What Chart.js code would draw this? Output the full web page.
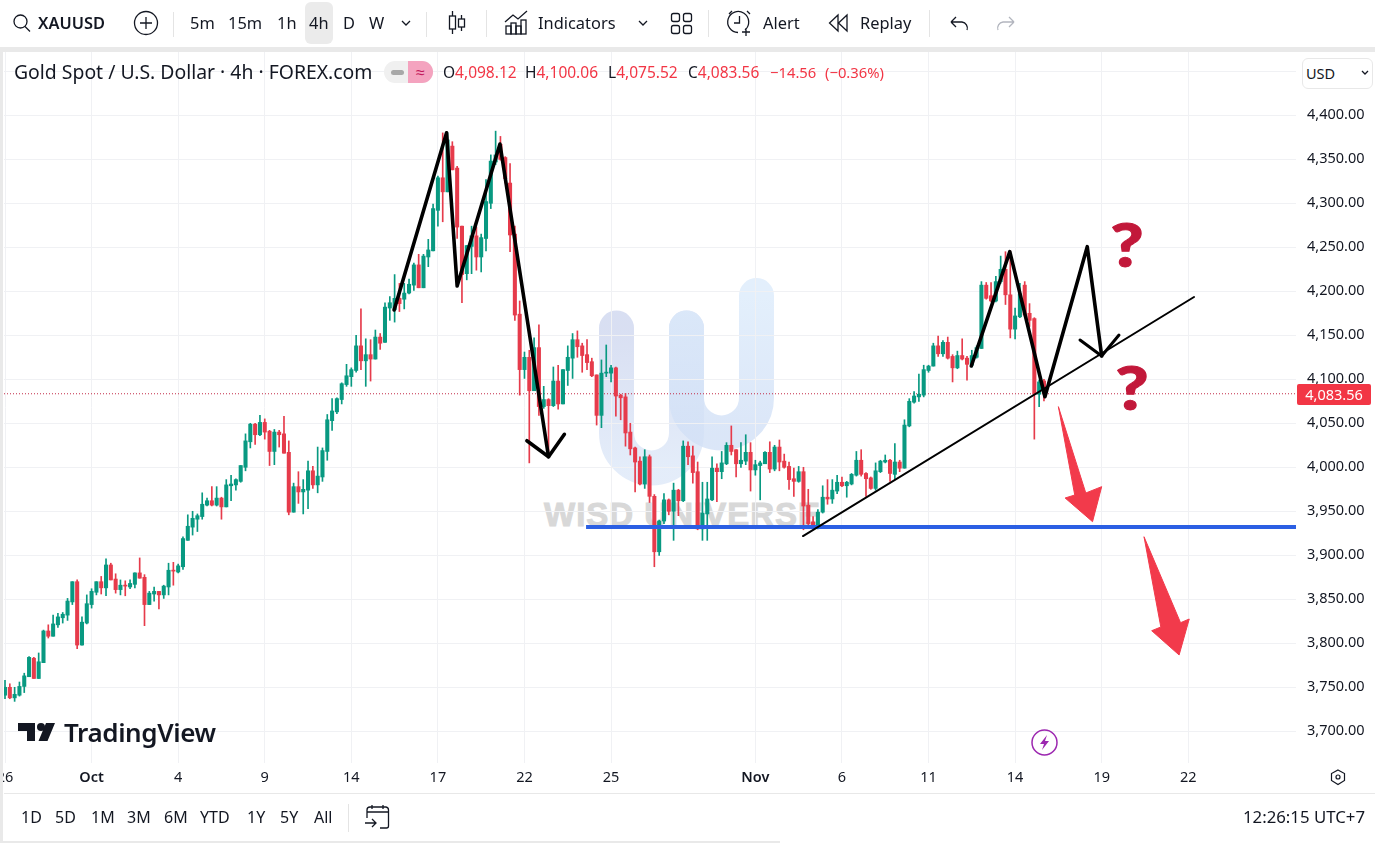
<!DOCTYPE html>
<html>
<head>
<meta charset="utf-8">
<title>XAUUSD</title>
<script src="https://cdn.jsdelivr.net/npm/chart.js@4"></script>
<style>
  html, body { margin: 0; padding: 0; background: #fff; }
  body { width: 1375px; height: 843px; position: relative; overflow: hidden; font-family: "Noto Sans", sans-serif; color: #131722; }
  .t { position: absolute; white-space: nowrap; line-height: 20px; }
  .tb { font-size: 16.4px; top: 13px; }
  .rng { font-size: 16px; top: 807px; }
  .ohlc { font-size: 15.5px; top: 62px; color: #f23645; }
  .ohlc b { font-weight: 400; color: #131722; }
  .sep { position: absolute; width: 1px; background: #e4e4e4; }
  .qm { font: 900 60px/68px Lato; color: #c2183a; transform: scaleX(1.2); -webkit-text-stroke: 1px #c2183a; }
  svg { position: absolute; overflow: visible; }
  #chartBox { position: absolute; left: 0; top: 0; width: 1375px; height: 843px; }
</style>
</head>
<body>

<!-- watermark sits under the canvas -->
<svg style="left:0;top:0" width="1375" height="843" fill="none">
  <defs>
    <linearGradient id="wa" x1="0" y1="0" x2="0" y2="1"><stop offset="0" stop-color="#cfd7ef"/><stop offset="1" stop-color="#dde8f8"/></linearGradient>
    <linearGradient id="wb" x1="0" y1="0" x2="0" y2="1"><stop offset="0" stop-color="#dcebfb"/><stop offset="1" stop-color="#d2e0f6"/></linearGradient>
  </defs>
  <path d="M616.5 328 V433 A35 35 0 0 0 686.5 433 V328" stroke="url(#wa)" stroke-width="35" stroke-linecap="round" opacity=".8"/>
  <path d="M686.5 328 V398 A35 35 0 0 0 756.5 398 V295.5" stroke="url(#wb)" stroke-width="35" stroke-linecap="round" opacity=".8"/>
</svg>
<div class="t" style="left:544px;top:497px;font:bold 33px/36px 'Liberation Sans';color:#d8d8d8;letter-spacing:1px;-webkit-text-stroke:1px #d8d8d8">WISD UNIVERSE</div>

<div id="chartBox"><canvas id="myChart" width="1375" height="843"></canvas></div>

<!-- frame -->
<div style="position:absolute;left:0;top:47px;width:1375px;height:5px;background:#e9e9e9"></div>
<div style="position:absolute;left:0;top:47px;width:3px;height:796px;background:#e9e9e9"></div>
<div style="position:absolute;left:0;top:841px;width:780px;height:2px;background:#e9e9e9"></div>
<div style="position:absolute;left:4px;top:793px;width:1371px;height:1px;background:#e8e8e8"></div>

<!-- top toolbar -->
<svg style="left:0;top:0" width="1040" height="46" fill="none" stroke="#131722" stroke-width="1.3">
  <circle cx="20.5" cy="21.5" r="6.5"/><path d="M25 26.5 L30 31.5"/>
  <circle cx="146" cy="23" r="11.5"/><path d="M146 17 V29 M140 23 H152"/>
  <path d="M402 21 L406 25 L410 21"/>
  <path d="M452.5 11 V34 M461.5 15 V31"/><rect x="449.5" y="16" width="6" height="13" fill="#fff"/><rect x="458.5" y="19" width="6" height="8" fill="#fff"/>
  <path d="M505 22 L513 15 L518 19 L527 11"/><rect x="506" y="26" width="5" height="8"/><rect x="511" y="23" width="5" height="11"/><rect x="516" y="26" width="5" height="8"/><rect x="521" y="20" width="5" height="14"/>
  <path d="M639 21 L643 25 L647 21"/>
  <rect x="671.5" y="13.5" width="8" height="8" rx="2"/><rect x="683.5" y="13.5" width="8" height="8" rx="2"/><rect x="671.5" y="25.5" width="8" height="8" rx="2"/><rect x="683.5" y="25.5" width="8" height="8" rx="2"/>
  <path d="M745 30 A10.5 10.5 0 1 0 738 32.5 M739.5 16 V23 H734 M729 14 L732 11 M750 14 L747 11 M746 28 V36 M742 32 H750"/>
  <path d="M838 15 L829.5 23 L838 31 Z M847 15 L838.5 23 L847 31 Z"/>
  <path d="M951 22 H962 A6 6 0 0 1 967 30 M951 22 L956 17 M951 22 L956 27"/>
  <path d="M1014 22 H1003 A6 6 0 0 0 998 30 M1014 22 L1009 17 M1014 22 L1009 27" stroke="#b2b5be"/>
</svg>
<div class="sep" style="left:173px;top:12px;height:25px"></div>
<div class="sep" style="left:426px;top:12px;height:25px"></div>
<div class="sep" style="left:486px;top:10px;height:27px"></div>
<div class="sep" style="left:708px;top:10px;height:27px"></div>
<div class="sep" style="left:929px;top:10px;height:27px"></div>
<div style="position:absolute;left:305px;top:2px;width:28px;height:42px;background:#ebebeb;border-radius:6px"></div>
<div class="t tb" style="left:38px;font-weight:600;">XAUUSD</div>
<div class="t tb" style="left:190px">5m</div>
<div class="t tb" style="left:228px">15m</div>
<div class="t tb" style="left:277px">1h</div>
<div class="t tb" style="left:309px">4h</div>
<div class="t tb" style="left:343px">D</div>
<div class="t tb" style="left:369px">W</div>
<div class="t tb" style="left:538px">Indicators</div>
<div class="t tb" style="left:763px">Alert</div>
<div class="t tb" style="left:860px">Replay</div>

<!-- legend row -->
<div class="t" style="left:14px;top:62px;font-size:19.4px;">Gold Spot / U.S. Dollar · 4h · FOREX.com</div>
<div style="position:absolute;left:384px;top:61px;width:49px;height:22px;border-radius:11px;background:#f0f0f0;overflow:hidden">
  <div style="position:absolute;left:7px;top:9px;width:13px;height:5px;border-radius:3px;background:#a8a8a8"></div>
  <div style="position:absolute;left:24px;top:0;width:25px;height:22px;background:#f4a3bf;color:#c2185b;font-size:16px;line-height:22px;text-align:center">≈</div>
</div>
<div class="t ohlc" style="left:443px"><b>O</b>4,098.12</div>
<div class="t ohlc" style="left:525px"><b>H</b>4,100.06</div>
<div class="t ohlc" style="left:608px"><b>L</b>4,075.52</div>
<div class="t ohlc" style="left:688px"><b>C</b>4,083.56</div>
<div class="t ohlc" style="left:770px;font-size:14.8px">−14.56</div>
<div class="t ohlc" style="left:825px;font-size:14.8px">(−0.36%)</div>

<div style="position:absolute;left:1302px;top:58px;width:69px;height:29px;border:1px solid #e8e8e8;border-radius:6px;background:#fff"></div>
<div class="t" style="left:1306px;top:63px;font-size:14.5px;">USD</div>
<svg style="left:0;top:0" width="1375" height="100" fill="none" stroke="#131722" stroke-width="1.3"><path d="M1362 71 L1365 74 L1368 71"/></svg>

<!-- last price tag -->
<div id="lastTag" style="position:absolute;left:1297px;top:384px;width:74px;height:21px;background:#f23645;border-radius:2px;color:#fff;font-size:14.5px;line-height:21px;text-align:center">4,083.56</div>

<!-- sketched question marks -->
<div class="t qm" style="left:1113px;top:210px">?</div>
<div class="t qm" style="left:1118px;top:353px">?</div>

<!-- TradingView mark -->
<svg style="left:0;top:0" width="60" height="760" fill="#131722"><path d="M18 723 H35 V741 H27 V731 H18 Z M55 723 L47.5 741 H38.5 L46 723 Z"/><circle cx="41" cy="727" r="4"/></svg>
<div class="t" style="left:64px;top:716px;font:600 26px/32px 'Noto Sans';letter-spacing:-.4px">TradingView</div>

<!-- lightning badge -->
<svg style="left:0;top:0" width="1375" height="800" fill="none">
  <circle cx="1044.5" cy="742.5" r="12.5" stroke="#9c27b0" stroke-width="1.5"/>
  <path d="M1047 735 L1040 744 H1044 L1042 750 L1049 741 H1045 Z" fill="#9c27b0"/>
  <path d="M1338 770 L1344.5 773.5 V780.5 L1338 784.5 L1331.5 780.5 V773.5 Z" stroke="#131722" stroke-width="1.2"/><circle cx="1338" cy="777" r="2" stroke="#131722" stroke-width="1.2"/>
</svg>

<!-- bottom bar -->
<div class="t rng" style="left:21px">1D</div>
<div class="t rng" style="left:55px">5D</div>
<div class="t rng" style="left:91px">1M</div>
<div class="t rng" style="left:127px">3M</div>
<div class="t rng" style="left:164px">6M</div>
<div class="t rng" style="left:200px">YTD</div>
<div class="t rng" style="left:247px">1Y</div>
<div class="t rng" style="left:280px">5Y</div>
<div class="t rng" style="left:314px">All</div>
<div class="sep" style="left:348px;top:804px;height:28px"></div>
<svg style="left:0;top:0" width="400" height="843" fill="none" stroke="#131722" stroke-width="1.3">
  <path d="M367 818 V810 A3 3 0 0 1 370 807 H386 A3 3 0 0 1 388.5 810 V826 A2 2 0 0 1 386.5 828 H380 M367 812 H388 M372 805 V809 M383 805 V809 M365 823 H376 M372 819 L376 823 L372 827"/>
</svg>
<div class="t" style="right:10px;top:807px;font-size:16.8px;">12:26:15 UTC+7</div>

<script>
// candles, one per 4h
const opens = [
  3741,3750,3738,3741,3751,3762,3783,3760,3778,3814,
  3808,3821,3829,3832,3847,3870,3798,3823,3844,3858,
  3870,3863,3889,3873,3861,3866,3864,3867,3880,3875,
  3844,3856,3859,3855,3864,3883,3881,3887,3917,3932,
  3941,3944,3957,3962,3957,3965,3955,3979,3980,3984,
  4000,4029,4049,4037,4051,4041,4018,4040,4038,4017,
  3949,3978,3972,3974,3996,3980,3989,4018,4053,4063,
  4077,4094,4103,4110,4138,4121,4128,4123,4148,4142,
  4181,4179,4192,4191,4198,4207,4230,4204,4239,4246,
  4292,4329,4313,4365,4340,4274,4220,4251,4263,4239,
  4260,4300,4347,4367,4352,4323,4265,4174,4111,4125,
  4087,4136,4069,4077,4070,4098,4072,4110,4124,4145,
  4138,4128,4120,4105,4059,4107,4107,4113,4082,4080,
  4040,4022,4007,3981,4012,3967,3904,3939,3963,3950,
  3974,3962,4024,4013,3995,3930,3947,3963,3999,3995,
  4004,4025,4020,4004,4007,4017,3997,4002,4004,4017,
  3998,4023,4007,4001,3987,3984,3995,3957,3938,3932,
  3949,3966,3964,3973,3983,3979,3981,3991,4008,3993,
  3988,3976,3995,4006,4008,3992,4006,3999,4047,4074,
  4080,4082,4110,4115,4138,4129,4142,4126,4113,4127,
  4124,4116,4125,4135,4207,4195,4189,4211,4225,4196,
  4157,4171,4207,4175,4169,4083,4098.12
];
const closes = [
  3750,3738,3742,3751,3763,3784,3760,3779,3814,3808,
  3822,3830,3833,3848,3870,3798,3824,3845,3859,3870,
  3863,3889,3872,3861,3866,3865,3868,3880,3874,3844,
  3857,3859,3855,3865,3883,3882,3888,3919,3933,3942,
  3945,3958,3962,3957,3965,3955,3980,3981,3986,4002,
  4030,4049,4037,4051,4040,4018,4040,4037,4016,3949,
  3978,3972,3975,3996,3980,3990,4019,4054,4064,4078,
  4095,4104,4111,4138,4121,4128,4123,4148,4141,4182,
  4187,4192,4186,4198,4208,4230,4204,4240,4247,4294,
  4329,4313,4372,4338,4273,4219,4252,4263,4239,4261,
  4302,4348,4355,4350,4328,4264,4173,4111,4125,4087,
  4136,4069,4077,4070,4098,4072,4111,4125,4145,4137,
  4127,4119,4104,4059,4107,4108,4113,4081,4079,4039,
  4021,4006,3981,4012,3967,3904,3939,3963,3950,3974,
  3962,4024,4012,3994,3930,3948,3964,3999,3995,4005,
  4025,4018,4004,4008,4017,3997,4003,4005,4017,3998,
  4023,4006,4000,3986,3984,3995,3956,3936,3931,3949,
  3966,3964,3974,3983,3979,3983,3992,4008,3992,3987,
  3976,3996,4007,4008,3993,4006,3999,4048,4075,4081,
  4083,4111,4115,4138,4129,4142,4124,4113,4127,4123,
  4117,4127,4136,4207,4192,4189,4211,4225,4196,4157,
  4172,4197,4173,4167,4083,4097,4083.56
];
const highs = [
  3758,3754,3750,3756,3766,3785,3784,3789,3815,3821,
  3832,3834,3835,3851,3870,3872,3830,3855,3862,3870,
  3876,3896,3891,3879,3872,3871,3872,3880,3897,3878,
  3859,3864,3859,3866,3891,3892,3890,3921,3946,3950,
  3947,3971,3965,3978,3978,3966,3986,3991,3987,4002,
  4038,4050,4050,4059,4055,4042,4043,4042,4058,4030,
  3982,3995,3986,4007,4001,4023,4022,4060,4078,4079,
  4096,4117,4113,4150,4180,4146,4145,4156,4152,4187,
  4194,4219,4209,4209,4214,4232,4242,4242,4259,4299,
  4331,4380,4380,4370,4342,4274,4252,4274,4273,4265,
  4327,4355,4382,4376,4353,4345,4274,4189,4131,4133,
  4147,4162,4092,4078,4114,4116,4111,4138,4152,4155,
  4141,4145,4124,4105,4122,4139,4116,4114,4083,4084,
  4050,4023,4012,4020,4014,3969,3940,3970,3964,3982,
  3975,4030,4029,4024,4006,3983,3983,4012,4004,4018,
  4028,4047,4020,4028,4037,4028,4008,4007,4018,4029,
  4025,4031,4015,4006,3999,4001,4000,3975,3944,3952,
  3979,3986,3986,3991,3989,3984,3993,4018,4020,3994,
  3989,4005,4008,4014,4009,4027,4008,4054,4078,4086,
  4106,4116,4116,4141,4149,4144,4148,4128,4132,4146,
  4126,4133,4138,4211,4210,4210,4217,4240,4245,4246,
  4181,4209,4211,4186,4170,4099,4100.06
];
const lows = [
  3737,3737,3734,3740,3744,3762,3760,3760,3778,3806,
  3808,3818,3823,3826,3844,3794,3798,3822,3840,3855,
  3856,3854,3872,3857,3855,3854,3862,3863,3874,3820,
  3844,3848,3839,3851,3855,3866,3880,3884,3917,3923,
  3927,3941,3956,3956,3956,3941,3955,3962,3974,3983,
  3996,4022,4026,4036,4032,4002,4003,4023,4016,3946,
  3949,3959,3947,3953,3976,3971,3984,4008,4042,4061,
  4072,4092,4092,4108,4111,4092,4098,4123,4134,4142,
  4167,4165,4177,4180,4197,4201,4204,4204,4228,4246,
  4274,4279,4313,4338,4260,4187,4213,4220,4224,4222,
  4246,4294,4344,4349,4323,4245,4167,4082,4101,4005,
  4087,4059,4067,4014,4069,4066,4072,4093,4101,4125,
  4108,4111,4103,4048,4045,4103,4097,4058,4054,4024,
  4014,3972,3980,3976,3960,3887,3900,3936,3946,3917,
  3945,3961,4003,3982,3929,3917,3917,3962,3961,3987,
  4003,4014,3989,4000,4003,3973,3991,3963,4004,3994,
  3996,3996,3999,3975,3967,3983,3929,3932,3930,3930,
  3948,3958,3959,3970,3978,3966,3980,3990,3990,3967,
  3975,3974,3994,4005,3984,3986,3995,3999,4046,4073,
  4075,4080,4108,4115,4126,4126,4123,4097,4112,4122,
  4099,4114,4124,4135,4191,4188,4188,4209,4185,4147,
  4146,4170,4171,4160,4032,4069,4075.52
];

// axes
const priceTicks = [3700,3750,3800,3850,3900,3950,4000,4050,4100,4150,4200,4250,4300,4350,4400,4450];
const dateTicks = [0,18,36,54,72,90,108,126,156,174,192,210,228,246];
const dateLabels = ["26","Oct","4","9","14","17","22","25","Nov","6","11","14","19","22"];
const lastPrice = 4083.56;

// hand drawn marks, bar index and price
const zigLeftX = [80.9,91.8,94.0,102.9,113.0];
const zigLeftY = [4178.8,4380.2,4206,4367.4,4012];
const headLeftX = [108.5,113.0,116.3];
const headLeftY = [4030.2,4012,4037.5];
const zigRightX = [200.9,208.9,216.2,225.0,228.0];
const zigRightY = [4115.1,4245,4080.2,4250.7,4126.5];
const headRightX = [223.5,228.0,231.6];
const headRightY = [4144.7,4126.5,4150.3];
const trendX = [165.9,247.2];
const trendY = [3921.9,4193.5];
const supportX = [120.8,268.4];
const supportY = [3932.2,3932.2];
const arrowOneX = [219,222.4,220.4,226.1,228,224.7,219];
const arrowOneY = [4068.9,3968.5,3965.1,3938.2,3978,3970.8,4068.9];
const arrowTwoX = [236.8,240.3,238.4,244.1,246.2,244.4,236.8];
const arrowTwoY = [3921.1,3818.5,3814.3,3786.7,3827.6,3823.4,3921.1];

const green = '#089981';
const red = '#e63b4b';
const gridColor = '#f0f1f4';
const xMin = -0.21;
const xMax = 268.4;

function points(xs, ys) {
  return xs.map((x, i) => ({ x: x, y: ys[i] }));
}

function sketch(xs, ys, width, order) {
  return {
    type: 'line',
    data: points(xs, ys),
    borderColor: '#000',
    borderWidth: width,
    borderCapStyle: 'round',
    borderJoinStyle: 'round',
    pointRadius: 0,
    tension: 0,
    order: order
  };
}

function redArrow(xs, ys) {
  return {
    type: 'line',
    data: points(xs, ys),
    borderColor: '#f23a4b',
    borderWidth: 1,
    backgroundColor: '#f23a4b',
    fill: 'shape',
    pointRadius: 0,
    tension: 0,
    order: 1
  };
}

const barColors = opens.map((o, i) => closes[i] >= o ? green : red);

const config = {
  type: 'bar',
  data: {
    datasets: [
      sketch(zigLeftX, zigLeftY, 3.6, 1),
      sketch(headLeftX, headLeftY, 3.6, 1),
      sketch(zigRightX, zigRightY, 3.6, 1),
      sketch(headRightX, headRightY, 3, 1),
      sketch(trendX, trendY, 2, 1),
      {
        type: 'line',
        data: points(supportX, supportY),
        borderColor: '#2b5fe3',
        borderWidth: 4,
        pointRadius: 0,
        order: 2
      },
      redArrow(arrowOneX, arrowOneY),
      redArrow(arrowTwoX, arrowTwoY),
      {
        type: 'bar',
        data: opens.map((o, i) => ({ x: i, y: [o, closes[i]] })),
        backgroundColor: barColors,
        barThickness: 3.4,
        minBarLength: 1,
        grouped: false,
        order: 3
      },
      {
        type: 'bar',
        data: opens.map((o, i) => ({ x: i, y: [lows[i], highs[i]] })),
        backgroundColor: barColors,
        barThickness: 1,
        grouped: false,
        order: 4
      },
      {
        type: 'line',
        data: points([xMin, xMax], [lastPrice, lastPrice]),
        borderColor: '#c22d48',
        borderWidth: 1,
        borderDash: [1, 2],
        pointRadius: 0,
        order: 5
      }
    ]
  },
  options: {
    responsive: false,
    animation: false,
    events: [],
    layout: {
      autoPadding: false,
      padding: { left: 4, top: 52, right: 0, bottom: 0 }
    },
    plugins: {
      legend: { display: false },
      tooltip: { enabled: false }
    },
    scales: {
      x: {
        type: 'linear',
        offset: false,
        min: xMin,
        max: xMax,
        afterBuildTicks: (axis) => { axis.ticks = dateTicks.map(v => ({ value: v })); },
        afterFit: (axis) => {
          axis.height = 80;
          // first label hangs off the left edge on purpose
          axis.paddingLeft = 0;
          axis.paddingRight = 0;
        },
        border: { display: false },
        // bar charts shift grid lines half a step by default
        grid: { color: gridColor, drawTicks: false, offset: false },
        ticks: {
          autoSkip: false,
          maxRotation: 0,
          padding: 6,
          color: '#131722',
          font: (ctx) => ({
            family: 'Noto Sans',
            size: 14.5,
            weight: ctx.tick && isNaN(ctx.tick.label) ? '600' : '400'
          }),
          callback: (v) => dateLabels[dateTicks.indexOf(v)]
        }
      },
      y: {
        position: 'right',
        min: 3663.97,
        max: 4471.93,
        afterBuildTicks: (axis) => { axis.ticks = priceTicks.map(v => ({ value: v })); },
        afterFit: (axis) => {
          axis.width = 79;
          axis.paddingTop = 0;
          axis.paddingBottom = 0;
        },
        border: { display: false },
        grid: { color: gridColor, drawTicks: false },
        ticks: {
          padding: 11,
          color: '#131722',
          font: { family: 'Noto Sans', size: 14.5 },
          callback: (v) => v > 4400 ? '' : v.toLocaleString('en-US', { minimumFractionDigits: 2 })
        }
      }
    }
  }
};

const myChart = new Chart(document.getElementById('myChart'), config);
</script>
</body>
</html>
